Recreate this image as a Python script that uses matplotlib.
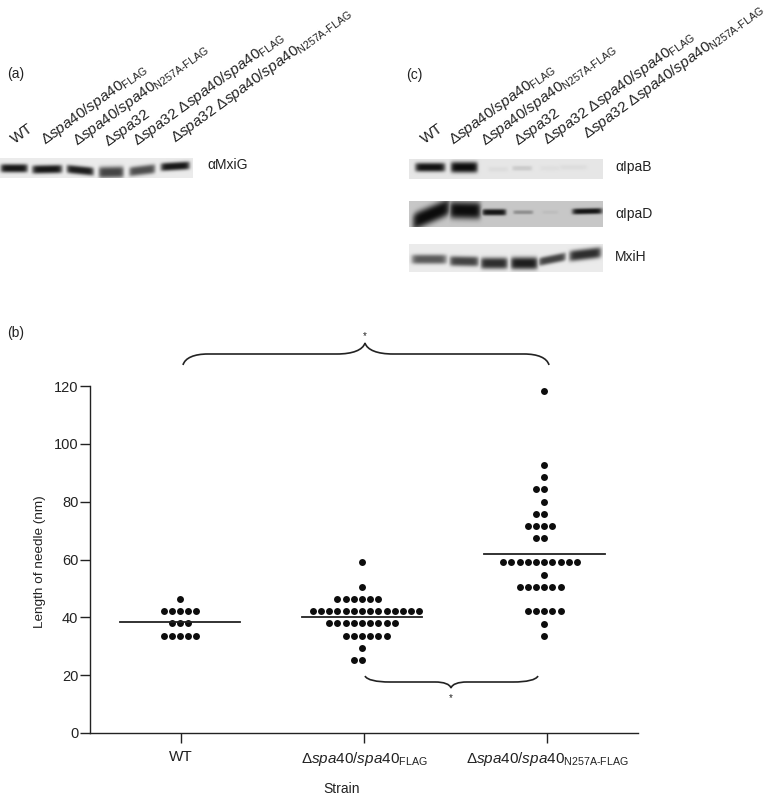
import numpy as np
import matplotlib
matplotlib.use("Agg")
import matplotlib.pyplot as plt
from matplotlib.path import Path
from matplotlib.patches import PathPatch

plt.rcParams["font.family"] = ["Liberation Sans", "DejaVu Sans"]
plt.rcParams["mathtext.fontset"] = "custom"
plt.rcParams["mathtext.rm"] = "Liberation Sans"
plt.rcParams["mathtext.it"] = "Liberation Sans:italic"
plt.rcParams["mathtext.bf"] = "Liberation Sans:bold"

# needle lengths, one level per row of dots
wt_levels = [46.4, 42.2, 38.0, 33.7]
wt_counts = [1, 5, 3, 5]
wt_mean = 38.5

flag_levels = [59.0, 50.5, 46.4, 42.2, 38.0, 33.7, 29.5, 25.3]
flag_counts = [1, 1, 6, 14, 9, 6, 1, 2]
flag_mean = 40.0

n257a_levels = [118.2, 92.7, 88.6, 84.3, 80.0, 75.9, 71.7, 67.5, 59.0, 54.7, 50.5, 42.1, 37.8, 33.6]
n257a_counts = [1, 1, 1, 2, 1, 2, 4, 2, 10, 1, 6, 5, 1, 1]
n257a_mean = 62.0

strains = ["WT",
           r"$\Delta\mathit{spa40/spa40}_{\mathrm{FLAG}}$",
           r"$\Delta\mathit{spa40/spa40}_{\mathrm{N257A\text{-}FLAG}}$"]
y_ticks = [0, 20, 40, 60, 80, 100, 120]

lane_labels = ["WT",
               r"$\Delta\mathit{spa40/spa40}_{\mathrm{FLAG}}$",
               r"$\Delta\mathit{spa40/spa40}_{\mathrm{N257A\text{-}FLAG}}$",
               r"$\Delta\mathit{spa32}$",
               r"$\Delta\mathit{spa32}\ \Delta\mathit{spa40/spa40}_{\mathrm{FLAG}}$",
               r"$\Delta\mathit{spa32}\ \Delta\mathit{spa40/spa40}_{\mathrm{N257A\text{-}FLAG}}$"]

# band darkness per lane, judged by eye
mxig_dark = [0.95, 0.95, 0.92, 0.75, 0.70, 0.95]
ipab_dark = [0.97, 1.0, 0.04, 0.12, 0.03, 0.04]
ipad_dark = [1.0, 1.0, 0.95, 0.30, 0.05, 0.95]
mxih_dark = [0.65, 0.75, 0.85, 0.92, 0.75, 0.85]

W, H = 767, 798
fig = plt.figure(figsize=(W / 100, H / 100), dpi=100)
over = fig.add_axes([0, 0, 1, 1])
ax = fig.add_axes([89.5 / W, 1 - 733 / H, (638 - 89.5) / W, (733 - 386) / H])

# scatter panel
px = 183.0
slot = 8.2 / px
groups = [(wt_levels, wt_counts, wt_mean, {}),
          (flag_levels, flag_counts, flag_mean, {42.2: -6, 33.7: -2}),
          (n257a_levels, n257a_counts, n257a_mean, {})]
for i, (levels, counts, mean, starts) in enumerate(groups):
    centre = i * 0.995 - 0.006
    xs, ys = [], []
    for lev, n in zip(levels, counts):
        first = starts.get(lev, -(n // 2))
        xs.extend(centre + (first + np.arange(n)) * slot)
        ys.extend([lev] * n)
    ax.scatter(xs, ys, s=25, color="#0d0d0d", linewidths=0, zorder=3, clip_on=False)
    ax.plot([centre - 0.33, centre + 0.33], [mean, mean], color="#222222", lw=1.3, zorder=4)

ax.set_xlim(-0.5, 2.497)
ax.set_ylim(0, 120)
ax.set_xticks(range(3))
ax.set_xticklabels(strains, fontsize=11)
ax.set_yticks(y_ticks)
ax.tick_params(axis="y", length=7, width=1.0, labelsize=10.5, pad=1, color="#222222", labelcolor="#222222")
ax.tick_params(axis="x", length=7, width=1.0, pad=5, color="#222222", labelcolor="#222222")
ax.set_ylabel("Length of needle (nm)", fontsize=9.7, color="#222222")
ax.yaxis.set_label_coords((46 - 89.5) / (638 - 89.5), 0.495)
for s in ["top", "right"]:
    ax.spines[s].set_visible(False)
for s in ["left", "bottom"]:
    ax.spines[s].set_linewidth(1.0)
    ax.spines[s].set_color("#222222")
ax.patch.set_alpha(0)


def blot(box, bands, bg=0.93):
    x0, y0, x1, y1 = box
    xx, yy = np.meshgrid(np.arange(x0, x1, 0.5), np.arange(y0, y1, 0.5))
    img = np.full(xx.shape, bg)
    for cx, cy, hw, th, tilt, d in bands:
        yc = cy + tilt * (xx - cx)
        b = d * np.exp(-((xx - cx) / hw) ** 8) * np.exp(-np.abs((yy - yc) / (th * 1.25)) ** 3)
        img = np.minimum(img, bg * (1 - b) + 0.05 * b)
    over.imshow(img, extent=(x0, x1, y1, y0), cmap="gray", vmin=0, vmax=1,
                aspect="auto", interpolation="bilinear")


blot((0, 158, 193, 178),
     [(14, 168, 13.5, 3.4, 0.0, mxig_dark[0]), (47, 169, 15, 3.4, -0.02, mxig_dark[1]),
      (80, 170, 13.5, 3.4, 0.1, mxig_dark[2]), (111, 172, 12.5, 4.6, -0.02, mxig_dark[3]),
      (142, 170, 13, 3.8, -0.12, mxig_dark[4]), (175, 166, 14.5, 3.3, -0.06, mxig_dark[5])],
     bg=0.92)
blot((409, 159, 603, 179),
     [(430, 167, 15, 3.6, 0.0, ipab_dark[0]), (464, 167, 13.5, 4.4, 0.0, ipab_dark[1]),
      (498, 169, 10, 2, 0, ipab_dark[2]), (522, 168, 10, 2, 0, ipab_dark[3]),
      (550, 168, 10, 2, 0, ipab_dark[4]), (573, 167, 14, 2, 0, ipab_dark[5])],
     bg=0.90)
blot((409, 201, 603, 227),
     [(431, 214, 18.5, 7.0, -0.42, ipad_dark[0]), (465, 210, 15.5, 7.0, 0.02, ipad_dark[1]),
      (494, 212, 12, 2.6, 0.0, ipad_dark[2]), (523, 212, 10, 1.6, 0.0, ipad_dark[3]),
      (550, 212, 8, 1.4, 0.0, ipad_dark[4]), (587, 211, 15, 2.4, -0.02, ipad_dark[5])],
     bg=0.78)
blot((409, 244, 603, 272),
     [(429, 259, 17.5, 3.8, 0.0, mxih_dark[0]), (464, 261, 14.5, 4.0, 0.02, mxih_dark[1]),
      (494, 263, 13.5, 4.6, 0.0, mxih_dark[2]), (524, 263, 13.5, 5.0, 0.0, mxih_dark[3]),
      (552, 259, 13.5, 3.4, -0.2, mxih_dark[4]), (585, 254, 16, 4.4, -0.12, mxih_dark[5])],
     bg=0.92)

over.set_xlim(0, W)
over.set_ylim(H, 0)
over.axis("off")

txt = dict(color="#222222", fontsize=10)
a_starts = [(15, 144), (45, 145), (77, 146), (108, 147), (137, 146), (175, 143)]
c_starts = [(425, 144), (453, 145), (485, 146), (518, 146), (547, 145), (587, 139)]
for starts in (a_starts, c_starts):
    for (x, y), lab in zip(starts, lane_labels):
        over.text(x, y, lab, rotation=36, rotation_mode="anchor", ha="left", va="baseline",
                  color="#222222", fontsize=11)

over.text(7, 74, "(a)", va="center", **txt)
over.text(406, 75, "(c)", va="center", **txt)
over.text(7, 333, "(b)", va="center", **txt)
over.text(207, 165, "αMxiG", va="center", **txt)
over.text(615, 167, "αIpaB", va="center", **txt)
over.text(615, 214, "αIpaD", va="center", **txt)
over.text(615, 257, "MxiH", va="center", **txt)
over.text(342, 789, "Strain", ha="center", va="center", **txt)


def brace(x0, x1, ytip, yflat, yend, xtip):
    # rounded ends and a pointed middle, y grows downwards on this axes
    r = 25.0
    rt = 28.0 if (x1 - x0) > 250 else 16.0
    e = yend - yflat
    t = ytip - yflat
    verts = [(x0, yend), (x0 + 0.08 * r, yflat + 0.35 * e), (x0 + 0.45 * r, yflat), (x0 + r, yflat),
             (xtip - rt, yflat),
             (xtip - 0.45 * rt, yflat), (xtip - 0.08 * rt, yflat + 0.35 * t), (xtip, ytip),
             (xtip + 0.08 * rt, yflat + 0.35 * t), (xtip + 0.45 * rt, yflat), (xtip + rt, yflat),
             (x1 - r, yflat),
             (x1 - 0.45 * r, yflat), (x1 - 0.08 * r, yflat + 0.35 * e), (x1, yend)]
    codes = [Path.MOVETO, Path.CURVE4, Path.CURVE4, Path.CURVE4,
             Path.LINETO,
             Path.CURVE4, Path.CURVE4, Path.CURVE4,
             Path.CURVE4, Path.CURVE4, Path.CURVE4,
             Path.LINETO,
             Path.CURVE4, Path.CURVE4, Path.CURVE4]
    over.add_patch(PathPatch(Path(verts, codes), fill=False, lw=1.2, edgecolor="#222222"))


brace(183, 549, 343, 354, 365, 365)
brace(365, 538, 688, 682, 676, 451)
over.text(365, 336, "*", ha="center", va="center", fontsize=7, color="#222222")
over.text(451, 698, "*", ha="center", va="center", fontsize=7, color="#222222")

fig.savefig("out.png", dpi=100)
